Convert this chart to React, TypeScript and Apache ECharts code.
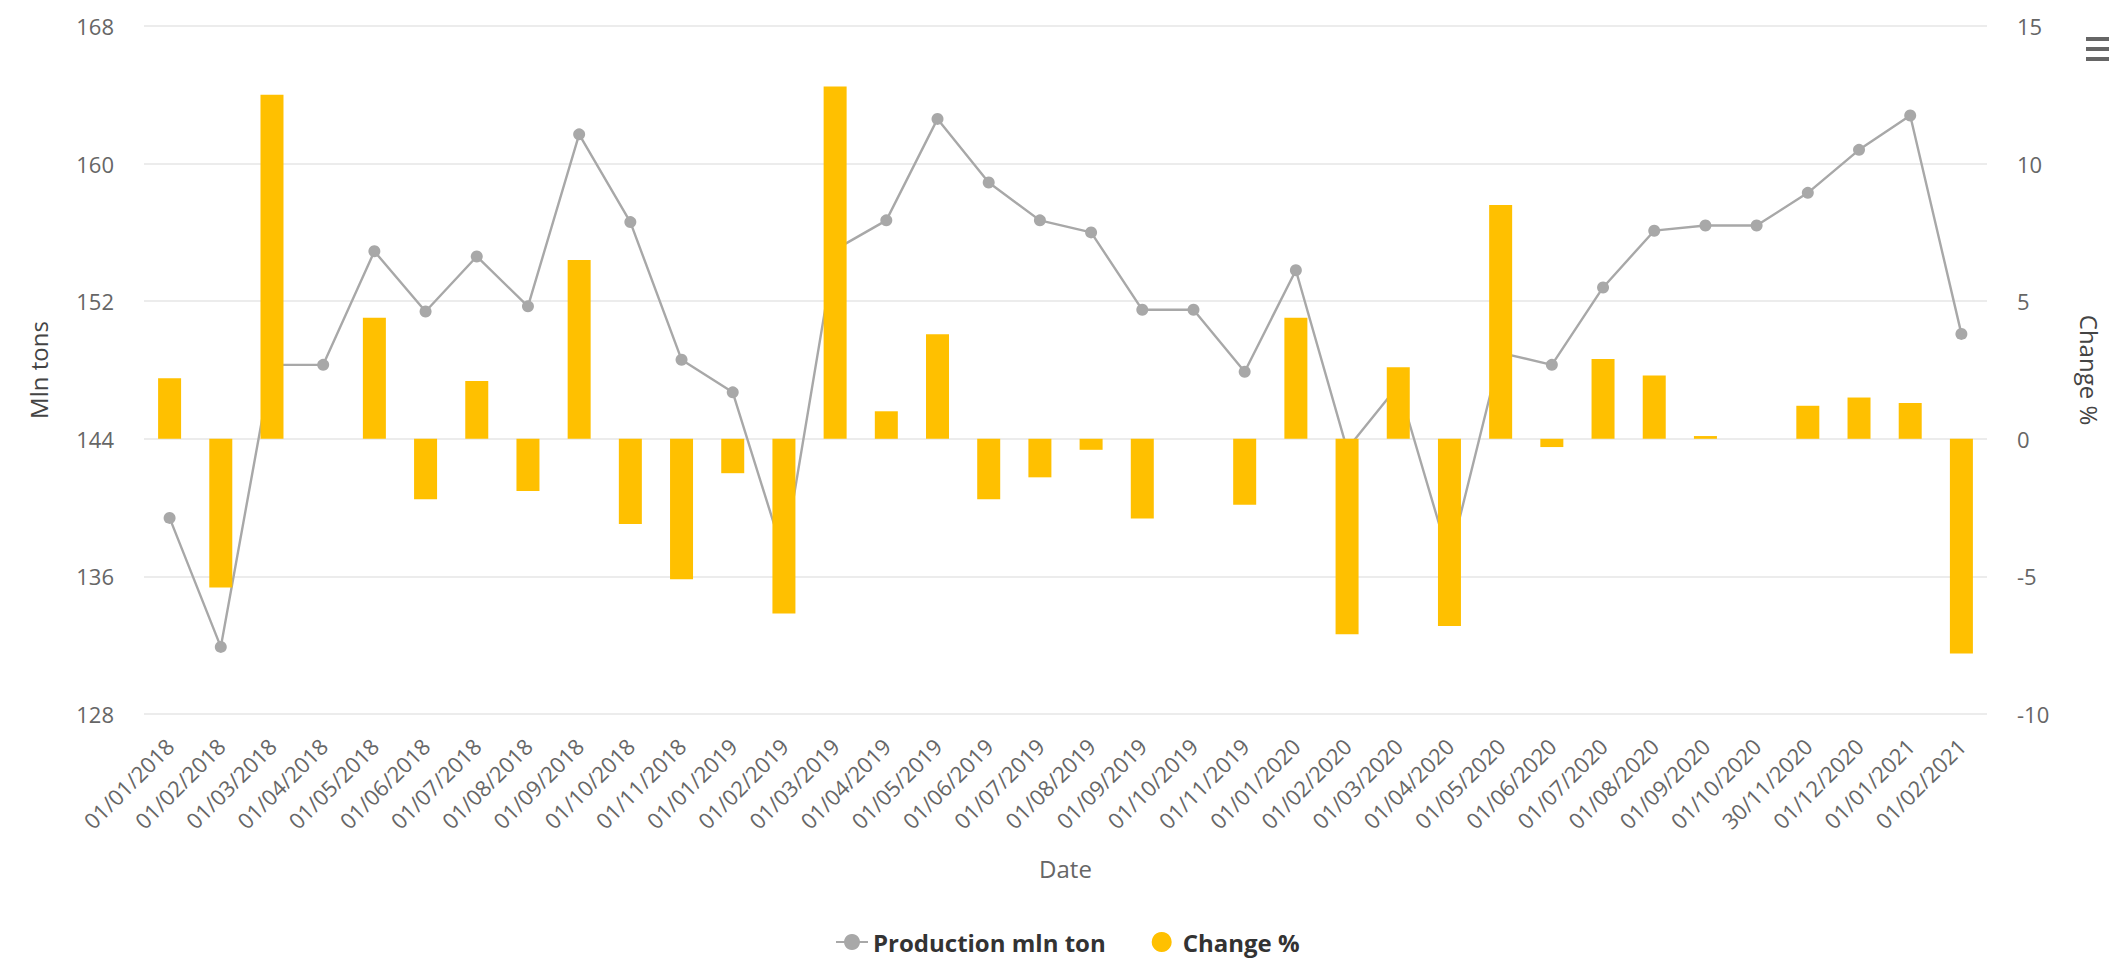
import React, { useEffect, useRef } from "react";
import * as echarts from "echarts";

// Monthly dates on the category axis
const dates = [
  "01/01/2018", "01/02/2018", "01/03/2018", "01/04/2018", "01/05/2018", "01/06/2018",
  "01/07/2018", "01/08/2018", "01/09/2018", "01/10/2018", "01/11/2018",
  "01/01/2019", "01/02/2019", "01/03/2019", "01/04/2019", "01/05/2019", "01/06/2019",
  "01/07/2019", "01/08/2019", "01/09/2019", "01/10/2019", "01/11/2019",
  "01/01/2020", "01/02/2020", "01/03/2020", "01/04/2020", "01/05/2020", "01/06/2020",
  "01/07/2020", "01/08/2020", "01/09/2020", "01/10/2020", "30/11/2020", "01/12/2020",
  "01/01/2021", "01/02/2021",
];

// Production, million tons (left axis)
const production = [
  139.4, 131.9, 148.3, 148.3, 154.9, 151.4, 154.6, 151.7, 161.7, 156.6, 148.6,
  146.7, 137.2, 155.0, 156.7, 162.6, 158.9, 156.7, 156.0, 151.5, 151.5, 147.9,
  153.8, 143.4, 147.1, 137.0, 149.0, 148.3, 152.8, 156.1, 156.4, 156.4, 158.3, 160.8,
  162.8, 150.1,
];

// Change versus previous period, % (right axis)
const changePct = [
  2.2, -5.4, 12.5, 0, 4.4, -2.2, 2.1, -1.9, 6.5, -3.1, -5.1,
  -1.25, -6.35, 12.8, 1.0, 3.8, -2.2, -1.4, -0.4, -2.9, 0, -2.4,
  4.4, -7.1, 2.6, -6.8, 8.5, -0.3, 2.9, 2.3, 0.1, 0, 1.2, 1.5,
  1.3, -7.8,
];

const leftTicks = { min: 128, max: 168, interval: 8 };
const rightTicks = { min: -10, max: 15, interval: 5 };

const FONT = "'Open Sans', 'Noto Sans', sans-serif";
const LINE_COLOR = "#A8A8A8";
const BAR_COLOR = "#FFC000";

export default function App() {
  const ref = useRef<HTMLDivElement>(null);

  useEffect(() => {
    if (!ref.current) return;
    const chart = echarts.init(ref.current, undefined, { renderer: "svg" });

    chart.setOption({
      animation: false,
      backgroundColor: "#ffffff",
      textStyle: { fontFamily: FONT },
      grid: { left: 144, right: 111, top: 26, bottom: 244, containLabel: false },
      legend: {
        left: 830,
        top: 925,
        itemGap: 46,
        itemWidth: 32,
        itemHeight: 20,
        textStyle: { fontFamily: FONT, fontSize: 24, fontWeight: "bold", color: "#333333" },
        data: [
          { name: "Production mln ton" },
          { name: "Change %", icon: "circle" },
        ],
      },
      xAxis: {
        type: "category",
        data: dates,
        boundaryGap: true,
        axisLine: { show: false },
        axisTick: { show: false },
        axisLabel: {
          rotate: 45,
          interval: 0,
          margin: 28,
          fontSize: 22,
          color: "#666666",
          fontFamily: FONT,
        },
        name: "Date",
        nameLocation: "middle",
        nameGap: 142,
        nameTextStyle: { fontSize: 24, color: "#666666", fontFamily: FONT },
      },
      yAxis: [
        {
          type: "value",
          position: "left",
          min: leftTicks.min,
          max: leftTicks.max,
          interval: leftTicks.interval,
          axisLine: { show: false },
          axisTick: { show: false },
          splitLine: { lineStyle: { color: "#e6e6e6", width: 1.5 } },
          axisLabel: { fontSize: 22, color: "#666666", margin: 30, fontFamily: FONT },
          name: "Mln tons",
          nameLocation: "middle",
          nameRotate: 90,
          nameGap: 94,
          nameTextStyle: { fontSize: 24, color: "#444444", fontFamily: FONT },
        },
        {
          type: "value",
          position: "right",
          min: rightTicks.min,
          max: rightTicks.max,
          interval: rightTicks.interval,
          axisLine: { show: false },
          axisTick: { show: false },
          splitLine: { show: false },
          axisLabel: { fontSize: 22, color: "#666666", margin: 30, fontFamily: FONT },
          name: "Change %",
          nameLocation: "middle",
          nameRotate: -90,
          nameGap: 90,
          nameTextStyle: { fontSize: 24, color: "#444444", fontFamily: FONT },
        },
      ],
      series: [
        {
          name: "Production mln ton",
          type: "line",
          yAxisIndex: 0,
          data: production,
          symbol: "circle",
          symbolSize: 12,
          z: 2,
          lineStyle: { color: LINE_COLOR, width: 2.4 },
          itemStyle: { color: LINE_COLOR },
        },
        {
          name: "Change %",
          type: "bar",
          yAxisIndex: 1,
          data: changePct,
          barWidth: 23,
          z: 3,
          itemStyle: { color: BAR_COLOR },
        },
      ],
      graphic: [
        // export-menu button in the top-right corner
        {
          type: "group",
          left: 2086,
          top: 37,
          children: [
            { type: "rect", shape: { x: 0, y: 0, width: 23, height: 4 }, style: { fill: "#666666" } },
            { type: "rect", shape: { x: 0, y: 10, width: 23, height: 4 }, style: { fill: "#666666" } },
            { type: "rect", shape: { x: 0, y: 20, width: 23, height: 4 }, style: { fill: "#666666" } },
          ],
        },
      ],
    });

    return () => chart.dispose();
  }, []);

  return (
    <div
      ref={ref}
      style={{ position: "fixed", left: 0, top: 0, width: 2109, height: 958, background: "#fff" }}
    />
  );
}
